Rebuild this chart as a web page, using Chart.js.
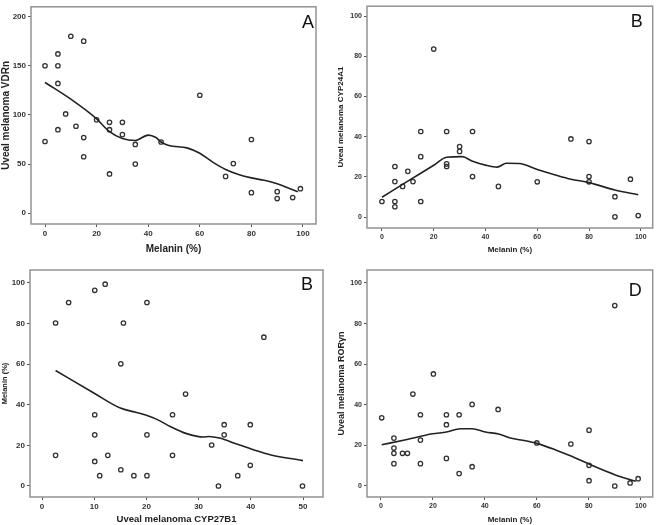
<!DOCTYPE html>
<html>
<head>
<meta charset="utf-8">
<script src="https://cdn.jsdelivr.net/npm/chart.js@4/dist/chart.umd.min.js"></script>
<style>
    html, body { margin: 0; padding: 0; background: #fff; }
    #wrap  { position: relative; width: 658px; height: 525px; }
    .panel { position: absolute; }
</style>
</head>
<body>
<div id="wrap">
    <div class="panel" style="left:0;top:0;width:329px;height:262px"><canvas id="chartA"></canvas></div>
    <div class="panel" style="left:329px;top:0;width:329px;height:262px"><canvas id="chartB"></canvas></div>
    <div class="panel" style="left:0;top:262px;width:329px;height:263px"><canvas id="chartC"></canvas></div>
    <div class="panel" style="left:329px;top:262px;width:329px;height:263px"><canvas id="chartD"></canvas></div>
</div>
<script>
// ============================================================
// Melanin vs. uveal melanoma markers (4 scatter panels + loess)
// ============================================================

// ── Panel A: melanin (%) vs VDRn ─────────────────────────────
const melaninA = [0, 0, 5, 5, 5, 5, 8, 10, 12, 15, 15, 15, 20, 25, 25, 25, 30, 30, 35, 35, 45, 60, 70, 73, 80, 80, 90, 90, 96, 99];
const vdrA     = [150, 73, 162, 150, 132, 85, 101, 180, 88.5, 175, 77, 57.5, 95, 92.5, 85, 40, 92.5, 80, 70, 50, 72.5, 120, 37.5, 50.5, 75, 21, 22, 15, 16, 25];
const fitXA    = [0, 10, 20, 25, 30, 35, 40, 43, 45, 48, 55, 60, 65, 70, 75, 80, 85, 90, 95, 98];
const fitYA    = [133, 116, 96, 83, 76, 74, 79.5, 77, 72.5, 69, 66.5, 61, 52, 44.5, 39.5, 36, 33.5, 30, 25, 22];
const xTicksA  = [0, 20, 40, 60, 80, 100];
const yTicksA  = [0, 50, 100, 150, 200];

// ── Panel B: melanin (%) vs CYP24A1 ──────────────────────────
const melaninB = [0, 5, 5, 5, 5, 8, 10, 12, 15, 15, 15, 20, 25, 25, 25, 30, 30, 35, 35, 45, 60, 73, 80, 80, 80, 90, 90, 96, 99];
const cypB     = [7.8, 25.2, 17.7, 7.8, 5.2, 15.3, 22.8, 17.7, 42.6, 30.1, 7.8, 83.6, 42.6, 26.5, 25.2, 35.1, 32.7, 42.6, 20.2, 15.3, 17.6, 38.9, 37.6, 20.2, 17.6, 10.2, 0.2, 18.9, 0.8];
const fitXB    = [0, 10, 20, 25, 31, 35, 40, 44.5, 48, 53, 60, 67, 73, 80, 90, 99];
const fitYB    = [9.9, 17.9, 25.8, 29.8, 30.1, 27.8, 25.9, 24.9, 26.8, 26.7, 23.7, 21, 18.9, 17.2, 13.5, 11.2];
const xTicksB  = [0, 20, 40, 60, 80, 100];
const yTicksB  = [0, 20, 40, 60, 80, 100];

// ── Panel C: CYP27B1 vs melanin (%) ──────────────────────────
const cypC     = [2.6, 2.6, 5.1, 10.1, 10.1, 10.1, 10.1, 11.05, 12.1, 12.6, 15.1, 15.1, 15.6, 17.6, 20.1, 20.1, 20.1, 25, 25, 27.5, 32.5, 33.8, 34.9, 34.9, 37.5, 39.9, 39.9, 42.5, 49.9];
const melaninC = [80.3, 15.1, 90.4, 96.4, 35.1, 25.2, 12.1, 5.1, 99.4, 15.1, 60.2, 8, 80.3, 5.1, 90.4, 25.2, 5.1, 35.1, 15.1, 45.3, 20.2, 0, 30.2, 25.2, 5.1, 30.2, 10.2, 73.3, 0];
const fitXC    = [2.6, 10, 15, 17.8, 20, 22.5, 24.5, 27.7, 30.9, 32, 34, 37.3, 40.5, 43.7, 50];
const fitYC    = [56.9, 45.7, 38.4, 36.4, 34.8, 32.2, 29.4, 25.8, 24.1, 24.4, 23.6, 20.7, 17.9, 15.4, 12.5];
const xTicksC  = [0, 10, 20, 30, 40, 50];
const yTicksC  = [0, 20, 40, 60, 80, 100];

// ── Panel D: melanin (%) vs RORγn ────────────────────────────
const melaninD = [0.3, 5, 5, 5, 5, 8.3, 10.2, 12.3, 15.2, 15.2, 15.2, 20.2, 25.2, 25.2, 25.2, 30.1, 30.1, 35.1, 35.1, 45.1, 60, 73.1, 80.1, 80.1, 80.1, 90, 90, 95.9, 99];
const rorD     = [33.6, 23.6, 18.7, 16.1, 11, 16.1, 16.1, 45.3, 35.1, 22.6, 11, 55.2, 35.1, 30.2, 13.6, 35.1, 6.1, 40.2, 9.5, 37.7, 21.2, 20.7, 27.5, 10.2, 2.6, 88.9, 0, 1.5, 3.6];
const fitXD    = [0.3, 9.6, 19.8, 25.2, 30.7, 35.1, 40.2, 45.3, 49.8, 55.6, 60, 67, 73.4, 80.1, 90, 98.1];
const fitYD    = [20.3, 22.8, 25.7, 26.6, 28.2, 28.2, 26.6, 25.6, 23.6, 22.3, 21, 17.9, 14.6, 10.8, 5.6, 2.3];
const xTicksD  = [0, 20, 40, 60, 80, 100];
const yTicksD  = [0, 20, 40, 60, 80, 100];

const FONT = "'Liberation Sans', Arial, sans-serif";
const toXY = (xs, ys) => xs.map((x, i) => ({ x, y: ys[i] }));

// grey plot frame + panel letter
const framePlugin = {
    id: 'frame',
    beforeDatasetsDraw(chart) {
        const { ctx, chartArea: a } = chart;
        ctx.save();
        ctx.strokeStyle = '#929292';
        ctx.lineWidth   = 1.5;
        ctx.strokeRect(a.left, a.top, a.right - a.left, a.bottom - a.top);
        ctx.restore();
    },
    afterDraw(chart, args, opts) {
        if (!opts.text) return;
        const { ctx, chartArea: a } = chart;
        ctx.save();
        ctx.font         = '18px ' + FONT;
        ctx.fillStyle    = '#111';
        ctx.textAlign    = 'right';
        ctx.textBaseline = 'alphabetic';
        ctx.fillText(opts.text, a.right - opts.dx, a.top + opts.dy);
        ctx.restore();
    }
};

function makeAxis(p, key) {
    const a = p[key];
    return {
        type: 'linear',
        position: key === 'x' ? 'bottom' : 'left',
        min: a.min,
        max: a.max,
        afterBuildTicks: (s) => { s.ticks = a.ticks.map(v => ({ value: v })); },
        afterFit: (s) => {
            if (key === 'x') s.height = a.size; else s.width = a.size;
        },
        border: { display: false },
        grid: {
            display: true,
            drawOnChartArea: false,
            drawTicks: true,
            tickLength: 3,
            color: '#555',
            lineWidth: 1
        },
        ticks: {
            autoSkip: false,
            maxRotation: 0,
            padding: 2,
            color: '#333',
            font: { family: FONT, size: a.tickSize, weight: 'bold' }
        },
        title: {
            display: true,
            text: a.title,
            color: '#222',
            font: { family: FONT, size: a.titleSize, weight: 'bold' },
            padding: key === 'x' ? { top: 0, bottom: a.titlePad } : { top: a.titlePad, bottom: 0 }
        }
    };
}

function makePanel(id, p) {
    return new Chart(document.getElementById(id), {
        type: 'scatter',
        data: {
            datasets: [
                {
                    label: 'loess',
                    data: toXY(p.fitX, p.fitY),
                    showLine: true,
                    borderColor: '#222',
                    borderWidth: 1.6,
                    pointRadius: 0,
                    cubicInterpolationMode: 'monotone',
                    fill: false
                },
                {
                    label: 'cases',
                    data: toXY(p.xs, p.ys),
                    pointStyle: 'circle',
                    pointRadius: 2.2,
                    borderWidth: 1.3,
                    borderColor: '#333',
                    backgroundColor: 'rgba(255,255,255,0)'
                }
            ]
        },
        options: {
            responsive: true,
            maintainAspectRatio: false,
            animation: false,
            layout: { padding: p.pad },
            plugins: {
                legend: { display: false },
                tooltip: { enabled: false },
                frame: p.letter
            },
            scales: { x: makeAxis(p, 'x'), y: makeAxis(p, 'y') }
        },
        plugins: [framePlugin]
    });
}

makePanel('chartA', {
    xs: melaninA, ys: vdrA, fitX: fitXA, fitY: fitYA,
    pad: { top: 2, right: 13, left: 0, bottom: 0 },
    x: { min: -5.43, max: 105.04, ticks: xTicksA, size: 38, tickSize: 8, title: 'Melanin (%)', titleSize: 10, titlePad: 7 },
    y: { min: -10.9, max: 209.95, ticks: yTicksA, size: 31, tickSize: 8, title: 'Uveal melanoma VDRn', titleSize: 10, titlePad: 0 },
    letter: { text: 'A', dx: 2, dy: 21 }
});

makePanel('chartB', {
    xs: melaninB, ys: cypB, fitX: fitXB, fitY: fitYB,
    pad: { top: 2, right: 4, left: 0, bottom: 0 },
    x: { min: -5.77, max: 104.6, ticks: xTicksB, size: 34, tickSize: 7, title: 'Melanin (%)', titleSize: 8, titlePad: 7.2 },
    y: { min: -5.37, max: 104.9, ticks: yTicksB, size: 38, tickSize: 7, title: 'Uveal melanoma CYP24A1', titleSize: 8, titlePad: 7.4 },
    letter: { text: 'B', dx: 10, dy: 21 }
});

makePanel('chartC', {
    xs: cypC, ys: melaninC, fitX: fitXC, fitY: fitYC,
    pad: { top: 8, right: 6, left: 0, bottom: 0 },
    x: { min: -2.3, max: 53.83, ticks: xTicksC, size: 28, tickSize: 8, title: 'Uveal melanoma CYP27B1', titleSize: 9.5, titlePad: 0 },
    y: { min: -5.42, max: 106.4, ticks: yTicksC, size: 30, tickSize: 8, title: 'Melanin (%)', titleSize: 7.5, titlePad: 0 },
    letter: { text: 'B', dx: 10, dy: 20 }
});

makePanel('chartD', {
    xs: melaninD, ys: rorD, fitX: fitXD, fitY: fitYD,
    pad: { top: 8, right: 4, left: 0, bottom: 0 },
    x: { min: -5.36, max: 104.6, ticks: xTicksD, size: 28, tickSize: 7, title: 'Melanin (%)', titleSize: 8, titlePad: 0.2 },
    y: { min: -5.42, max: 106.4, ticks: yTicksD, size: 38, tickSize: 7, title: 'Uveal melanoma RORγn', titleSize: 9, titlePad: 7.5 },
    letter: { text: 'D', dx: 11, dy: 26 }
});
</script>
</body>
</html>
